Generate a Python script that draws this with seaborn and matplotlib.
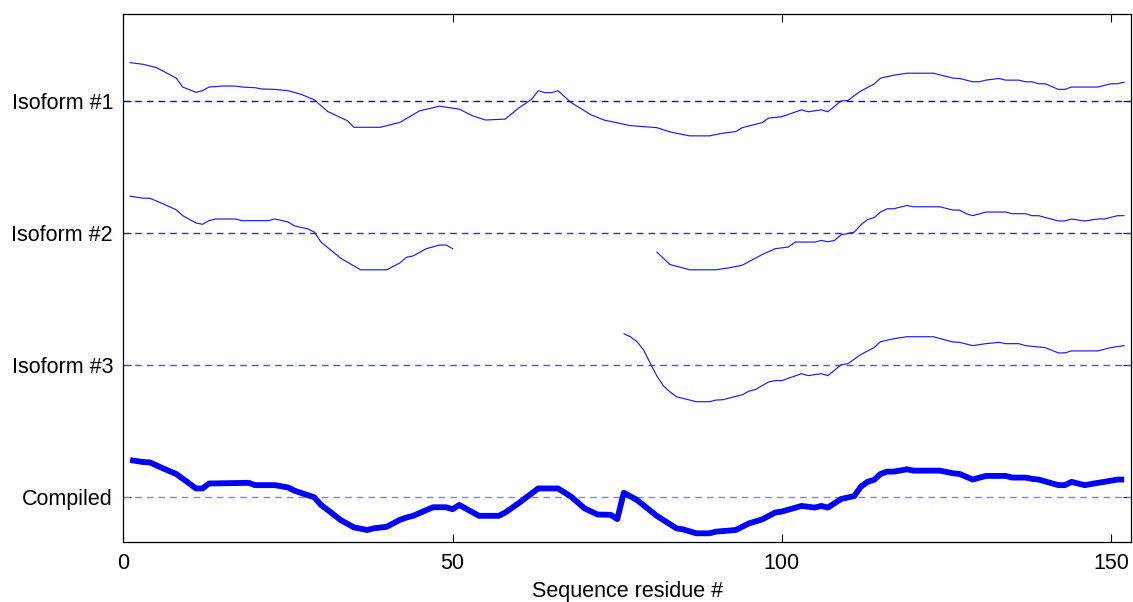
import numpy as np
import pandas as pd
import matplotlib
matplotlib.use("Agg")
import matplotlib.pyplot as plt
import seaborn as sns

# Track names (top to bottom) and their vertical baselines
track_labels = ["Isoform #1", "Isoform #2", "Isoform #3", "Compiled"]
track_offsets = [12, 8, 4, 0]

# Isoform #1: full-length profile
iso1_res = [1, 3, 5, 8, 9,
            11, 12, 13, 15, 17,
            18, 20, 21, 23, 25,
            27, 29, 31, 34, 35,
            39, 42, 45, 48, 51,
            53, 55, 58, 60, 62,
            63, 64, 65, 66, 68,
            71, 73, 77, 79, 81,
            83, 86, 89, 91, 93,
            94, 97, 98, 100, 103,
            104, 106, 107, 109, 110,
            112, 114, 115, 117, 119,
            123, 126, 127, 129, 130,
            131, 133, 134, 136, 137,
            138, 139, 140, 142, 143,
            144, 148, 150, 151, 152]
iso1_val = [1.16, 1.11, 1.01, 0.69, 0.42,
            0.26, 0.31, 0.42, 0.45, 0.45,
            0.42, 0.40, 0.36, 0.35, 0.31,
            0.20, 0.03, -0.32, -0.60, -0.80,
            -0.80, -0.65, -0.30, -0.16, -0.25,
            -0.45, -0.58, -0.55, -0.22, 0.05,
            0.31, 0.25, 0.25, 0.31, -0.05,
            -0.42, -0.58, -0.75, -0.78, -0.81,
            -0.94, -1.06, -1.06, -0.98, -0.93,
            -0.81, -0.66, -0.52, -0.48, -0.27,
            -0.33, -0.27, -0.33, 0.00, 0.01,
            0.30, 0.51, 0.69, 0.78, 0.84,
            0.84, 0.69, 0.68, 0.58, 0.58,
            0.63, 0.68, 0.63, 0.63, 0.58,
            0.58, 0.52, 0.52, 0.35, 0.35,
            0.42, 0.42, 0.52, 0.52, 0.57]

# Isoform #2: two exons separated by a skipped region
iso2a_res = [1, 3, 4, 6, 8,
             9, 11, 12, 13, 14,
             17, 18, 22, 23, 25,
             26, 28, 29, 30, 33,
             36, 40, 42, 43, 44,
             46, 48, 49, 50]
iso2a_val = [1.11, 1.05, 1.05, 0.88, 0.70,
             0.52, 0.30, 0.26, 0.37, 0.42,
             0.42, 0.37, 0.37, 0.42, 0.33,
             0.21, 0.12, 0.02, -0.28, -0.77,
             -1.12, -1.12, -0.91, -0.74, -0.70,
             -0.48, -0.37, -0.37, -0.48]
iso2b_res = [81, 83, 86, 90, 92,
             94, 97, 99, 101, 102,
             105, 106, 107, 108, 109,
             111, 112, 113, 114, 115,
             116, 117, 119, 120, 124,
             126, 127, 128, 129, 131,
             134, 135, 137, 138, 139,
             142, 143, 144, 146, 148,
             149, 151, 152]
iso2b_val = [-0.58, -0.96, -1.12, -1.12, -1.06,
             -0.98, -0.66, -0.48, -0.43, -0.28,
             -0.28, -0.23, -0.27, -0.23, -0.06,
             0.02, 0.24, 0.40, 0.46, 0.63,
             0.73, 0.73, 0.83, 0.79, 0.79,
             0.69, 0.69, 0.58, 0.52, 0.63,
             0.63, 0.58, 0.58, 0.52, 0.52,
             0.36, 0.36, 0.42, 0.36, 0.42,
             0.42, 0.52, 0.52]

# Isoform #3: C-terminal fragment only
iso3_res = [76, 77, 78, 79, 80,
            81, 82, 83, 84, 87,
            89, 90, 91, 94, 95,
            96, 98, 99, 100, 103,
            104, 106, 107, 109, 110,
            112, 114, 115, 117, 119,
            123, 126, 127, 129, 131,
            133, 134, 136, 137, 139,
            140, 142, 143, 144, 148,
            150, 152]
iso3_val = [0.94, 0.85, 0.70, 0.45, 0.05,
            -0.33, -0.64, -0.82, -0.97, -1.12,
            -1.12, -1.07, -1.06, -0.91, -0.80,
            -0.75, -0.52, -0.48, -0.48, -0.27,
            -0.33, -0.27, -0.33, 0.00, 0.03,
            0.31, 0.52, 0.70, 0.79, 0.85,
            0.85, 0.69, 0.68, 0.58, 0.64,
            0.68, 0.64, 0.64, 0.58, 0.54,
            0.52, 0.36, 0.36, 0.42, 0.42,
            0.52, 0.58]

# Compiled profile across all isoforms
comp_res = [1, 3, 4, 6, 8,
            10, 11, 12, 13, 19,
            20, 23, 25, 26, 29,
            30, 31, 33, 35, 37,
            38, 40, 42, 43, 44,
            47, 49, 50, 51, 54,
            57, 58, 60, 63, 66,
            68, 70, 72, 74, 75,
            76, 78, 81, 84, 85,
            87, 89, 90, 93, 95,
            97, 99, 100, 103, 105,
            106, 107, 109, 111, 112,
            113, 114, 115, 116, 117,
            119, 120, 124, 126, 127,
            129, 131, 134, 135, 137,
            138, 139, 142, 143, 144,
            146, 148, 149, 151, 152]
comp_val = [1.11, 1.05, 1.04, 0.86, 0.69,
            0.40, 0.25, 0.25, 0.40, 0.42,
            0.35, 0.35, 0.28, 0.18, -0.02,
            -0.25, -0.40, -0.71, -0.93, -1.01,
            -0.96, -0.91, -0.70, -0.63, -0.58,
            -0.32, -0.32, -0.38, -0.25, -0.58,
            -0.58, -0.48, -0.20, 0.25, 0.25,
            0.00, -0.35, -0.54, -0.55, -0.68,
            0.12, -0.10, -0.58, -0.96, -0.99,
            -1.11, -1.11, -1.06, -1.01, -0.81,
            -0.69, -0.48, -0.45, -0.28, -0.33,
            -0.28, -0.33, -0.07, 0.02, 0.30,
            0.45, 0.51, 0.69, 0.76, 0.76,
            0.83, 0.79, 0.79, 0.71, 0.69,
            0.52, 0.63, 0.63, 0.58, 0.58,
            0.54, 0.52, 0.35, 0.35, 0.45,
            0.35, 0.42, 0.45, 0.52, 0.52]


def track(res, val, offset, segment=0):
    return pd.DataFrame({"residue": res,
                         "score": np.asarray(val, dtype=float) + offset,
                         "segment": segment})


sns.set_style("ticks")
plt.rcParams.update({
    "xtick.direction": "in",
    "ytick.direction": "in",
    "xtick.top": True,
    "ytick.right": True,
    "xtick.major.size": 6,
    "ytick.major.size": 6,
    "xtick.major.width": 0.8,
    "ytick.major.width": 0.8,
    "xtick.color": "black",
    "ytick.color": "black",
    "axes.edgecolor": "black",
    "axes.labelcolor": "black",
    "text.color": "black",
    "axes.linewidth": 0.9,
    "lines.scale_dashes": False,
    "font.size": 15.5,
})
plt.rcParams["font.family"] = ["Liberation Sans", "DejaVu Sans"]

fig = plt.figure(figsize=(11.33, 6.02), dpi=100)
ax = fig.add_axes([0.109, 0.1002, 0.889, 0.8766])

# Baselines for each track
baseline_colors = ["#0000ff", "#2b2bff", "#4d4dff", "#8080ff"]
for off, col in zip(track_offsets, baseline_colors):
    ax.axhline(off, color=col, lw=1.0, ls=(0, (4.8, 3.6)), zorder=1)

thin = dict(color="#1a1aff", lw=0.85, estimator=None, units="segment",
            sort=False, legend=False, ax=ax)

sns.lineplot(data=track(iso1_res, iso1_val, track_offsets[0]),
             x="residue", y="score", **thin)
iso2 = pd.concat([track(iso2a_res, iso2a_val, track_offsets[1], 0),
                  track(iso2b_res, iso2b_val, track_offsets[1], 1)])
sns.lineplot(data=iso2, x="residue", y="score", **thin)
sns.lineplot(data=track(iso3_res, iso3_val, track_offsets[2]),
             x="residue", y="score", **thin)
sns.lineplot(data=track(comp_res, comp_val, track_offsets[3]),
             x="residue", y="score", color="#0000ff", lw=4.2,
             estimator=None, sort=False, legend=False, ax=ax,
             solid_joinstyle="round", solid_capstyle="butt")

ax.set_xlim(0, 153)
ax.set_ylim(-1.364, 14.636)
ax.set_xticks([0, 50, 100, 150])
ax.set_yticks(track_offsets)
ax.set_yticklabels(track_labels)
ax.tick_params(axis="x", pad=8)
ax.tick_params(axis="y", pad=7.5)
ax.set_xlabel("Sequence residue #", labelpad=5)
ax.set_ylabel("")
for side in ["top", "right", "left", "bottom"]:
    ax.spines[side].set_visible(True)

fig.savefig("out.png", dpi=100)
